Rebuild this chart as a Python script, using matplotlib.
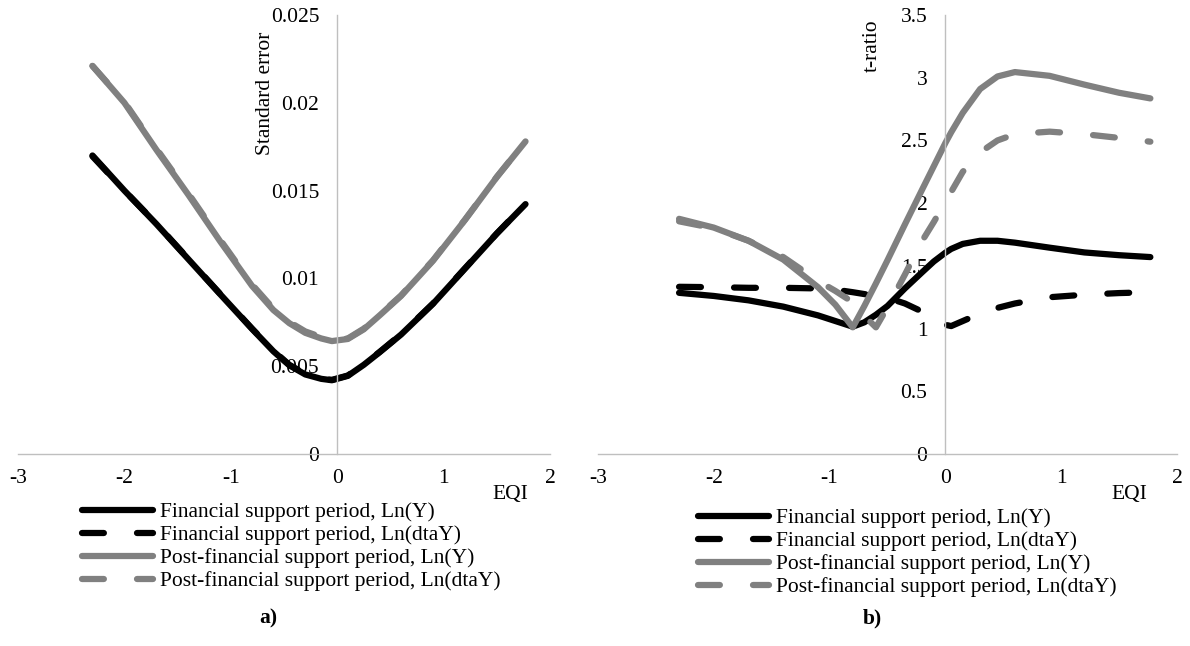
# two-panel chart: standard error (a) and t-ratio (b) against EQI

import matplotlib
matplotlib.use("Agg")
import matplotlib.pyplot as plt

plt.rcParams["font.family"] = ["Liberation Serif", "DejaVu Serif"]
plt.rcParams["axes.unicode_minus"] = False

labels = [
    "Financial support period, Ln(Y)",
    "Financial support period, Ln(dtaY)",
    "Post-financial support period, Ln(Y)",
    "Post-financial support period, Ln(dtaY)",
]

# panel a) standard error
eqi_a = [-2.3, -2.0, -1.7, -1.4, -1.1, -0.8, -0.6, -0.45, -0.3, -0.15, -0.05,
         0.1, 0.25, 0.4, 0.6, 0.9, 1.2, 1.5, 1.77]
se_fin_lny = [0.0170, 0.0150, 0.0131, 0.0111, 0.0091, 0.00712, 0.00585, 0.00505, 0.00453, 0.00428, 0.0042,
              0.00445, 0.00508, 0.0058, 0.0068, 0.00855, 0.01055, 0.01255, 0.01423]
se_fin_dtay = [0.01695, 0.0150, 0.01312, 0.01112, 0.00912, 0.00714, 0.00588, 0.00508, 0.00456, 0.0043, 0.00422,
               0.00447, 0.0051, 0.00582, 0.00682, 0.00857, 0.01057, 0.01256, 0.01425]
se_post_lny = [0.0221, 0.0200, 0.01733, 0.01477, 0.01211, 0.00957, 0.0082, 0.00745, 0.0069, 0.00658, 0.00643,
               0.00655, 0.0071, 0.0079, 0.0090, 0.0110, 0.01332, 0.01577, 0.0178]
se_post_dtay = [0.0221, 0.02005, 0.0174, 0.01485, 0.0122, 0.00965, 0.00828, 0.00752, 0.00698, 0.00666, 0.00648,
                0.00658, 0.00714, 0.00793, 0.00903, 0.01103, 0.01334, 0.01578, 0.01781]

# panel b) t-ratio
eqi_b = [-2.3, -2.0, -1.7, -1.4, -1.1, -0.95, -0.8, -0.7, -0.6, -0.5, -0.35, -0.2, -0.1, 0.0,
         0.05, 0.15, 0.3, 0.45, 0.6, 0.9, 1.2, 1.5, 1.77]
t_fin_lny = [1.285, 1.26, 1.225, 1.175, 1.105, 1.06, 1.015, 1.05, 1.11, 1.18, 1.32, 1.45, 1.535, 1.605,
             1.635, 1.675, 1.70, 1.70, 1.685, 1.645, 1.607, 1.585, 1.57]
t_fin_dtay = [1.333, 1.33, 1.325, 1.325, 1.32, 1.31, 1.29, 1.275, 1.26, 1.245, 1.20, 1.135, 1.08, 1.03,
              1.02, 1.06, 1.12, 1.165, 1.20, 1.25, 1.27, 1.283, 1.29]
t_post_lny = [1.875, 1.805, 1.70, 1.55, 1.33, 1.19, 1.01, 1.18, 1.36, 1.545, 1.83, 2.11, 2.295, 2.48,
              2.565, 2.72, 2.91, 3.01, 3.045, 3.015, 2.945, 2.88, 2.835]
t_post_dtay = [1.855, 1.80, 1.70, 1.57, 1.38, 1.30, 1.21, 1.10, 1.01, 1.17, 1.43, 1.70, 1.85, 2.01,
               2.09, 2.25, 2.405, 2.50, 2.55, 2.57, 2.55, 2.52, 2.49]

x_ticks = [-3, -2, -1, 0, 1, 2]
se_ticks = [0, 0.005, 0.01, 0.015, 0.02, 0.025]
se_ticklabels = ["0", "0.005", "0.01", "0.015", "0.02", "0.025"]
t_ticks = [0, 0.5, 1, 1.5, 2, 2.5, 3, 3.5]
t_ticklabels = ["0", "0.5", "1", "1.5", "2", "2.5", "3", "3.5"]

W, H = 1190, 646
FS = 15.5
BLACK = "#000000"
GREY = "#808080"
AXIS = "#bfbfbf"
LW = 4.5
DASH = (3.5, 5.3)


def px(x, y):
    # pixel position (from top-left) to figure fraction
    return x / W, 1 - y / H


def setup(ax, yticks, yticklabels):
    for s in ["top", "right"]:
        ax.spines[s].set_visible(False)
    ax.spines["left"].set_position(("data", 0))
    ax.spines["bottom"].set_position(("data", 0))
    for s in ["left", "bottom"]:
        ax.spines[s].set_color(AXIS)
        ax.spines[s].set_linewidth(1.0)
    ax.set_xticks(x_ticks)
    ax.set_xticklabels([str(t) for t in x_ticks])
    ax.set_yticks(yticks)
    ax.set_yticklabels(yticklabels)
    ax.tick_params(axis="x", length=0, pad=11, labelsize=FS)
    ax.tick_params(axis="y", length=0, pad=13, labelsize=FS)
    ax.patch.set_alpha(0)


def draw(ax, x, series):
    styles = [(BLACK, None), (BLACK, DASH), (GREY, None), (GREY, DASH)]
    lines = []
    for (c, d), y, lab in zip(styles, series, labels):
        ln, = ax.plot(x, y, color=c, lw=LW, label=lab, clip_on=False,
                      solid_capstyle="round", dash_capstyle="round",
                      solid_joinstyle="round", dash_joinstyle="round")
        if d:
            ln.set_dashes(d)
        lines.append(ln)
    return lines


fig = plt.figure(figsize=(W / 100, H / 100), dpi=100)

# panel a
l, b = px(18, 454)
r, t = px(550, 15)
ax1 = fig.add_axes([l, b, r - l, t - b])
draw(ax1, eqi_a, [se_fin_lny, se_fin_dtay, se_post_lny, se_post_dtay])
ax1.set_xlim(-3, 2)
ax1.set_ylim(0, 0.025)
setup(ax1, se_ticks, se_ticklabels)

# panel b
l, b = px(598, 454)
r, t = px(1177, 15)
ax2 = fig.add_axes([l, b, r - l, t - b])
draw(ax2, eqi_b, [t_fin_lny, t_fin_dtay, t_post_lny, t_post_dtay])
ax2.set_xlim(-3, 2)
ax2.set_ylim(0, 3.5)
setup(ax2, t_ticks, t_ticklabels)

# axis titles
fig.text(*px(265, 93), "Standard error", rotation=90, ha="center", va="center", fontsize=FS)
fig.text(*px(872, 46), "t-ratio", rotation=90, ha="center", va="center", fontsize=FS)
fig.text(*px(510, 494), "EQI", ha="center", va="center", fontsize=FS)
fig.text(*px(1129, 494), "EQI", ha="center", va="center", fontsize=FS)

# legends
for ax, (lx, ly) in [(ax1, (82, 502)), (ax2, (698, 508))]:
    ax.legend(loc="upper left", bbox_to_anchor=px(lx, ly), bbox_transform=fig.transFigure,
              frameon=False, fontsize=FS, handlelength=3.3, handletextpad=0.3,
              labelspacing=0.14, borderpad=0, borderaxespad=0)

fig.text(*px(268, 618), "a)", ha="center", va="center", fontsize=FS, fontweight="bold")
fig.text(*px(872, 618), "b)", ha="center", va="center", fontsize=FS, fontweight="bold")

fig.savefig("out.png", dpi=100)
